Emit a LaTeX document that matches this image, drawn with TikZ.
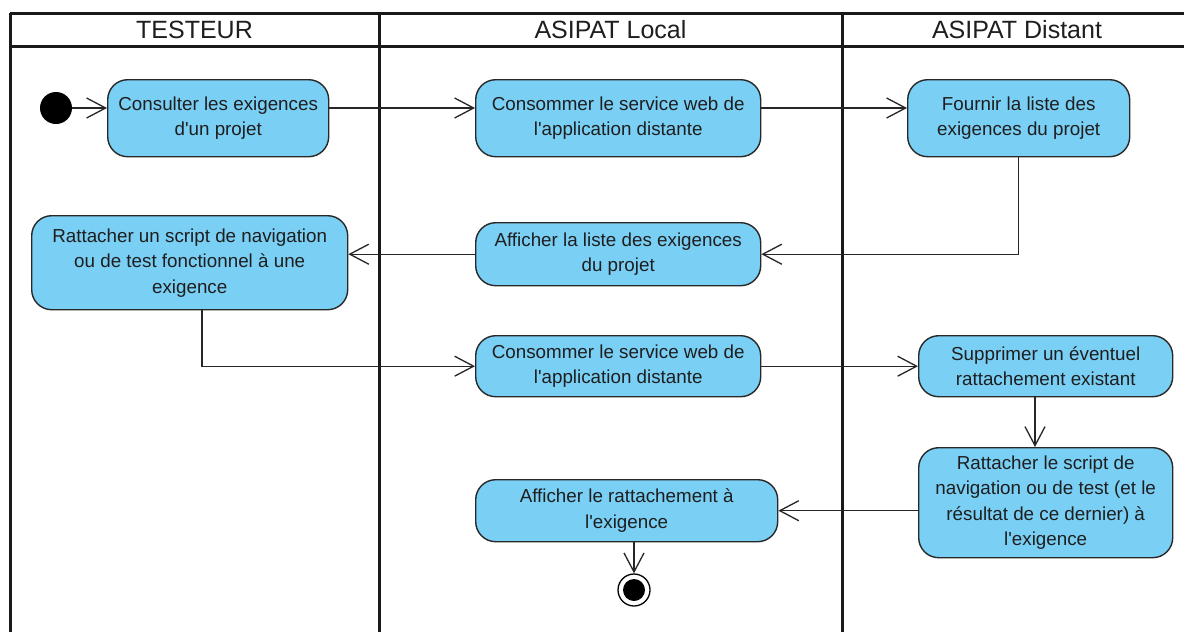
\documentclass[tikz,border=0pt]{standalone}
\usepackage{fontspec}
\setmainfont{Liberation Sans}
\usetikzlibrary{arrows.meta,calc}
\newcommand{\qs}{\textquotesingle}
\definecolor{actfill}{RGB}{122,207,245}
\definecolor{actdraw}{RGB}{40,40,40}
\definecolor{txt}{RGB}{30,30,30}
\tikzset{
  act/.style={draw=actdraw, line width=1.4pt, fill=actfill, rounded corners=20pt,
    anchor=north west, inner sep=0pt, align=center, text=txt,
    font=\fontsize{18.8}{25.5}\selectfont},
  flow/.style={draw=black!85, line width=1.3pt,
    -{Straight Barb[length=19pt,width=20pt,line width=1.3pt]}},
  lane/.style={line width=3pt, draw=black!90},
  hdr/.style={font=\fontsize{25}{30}\selectfont, text=txt, inner sep=0pt}
}
\begin{document}
\begin{tikzpicture}[x=1pt,y=-1pt]
\useasboundingbox (0,0) rectangle (1184,632);
\fill[white] (0,0) rectangle (1184,632);
% swimlane frame
\begin{scope}
\clip (0,0) rectangle (1184,632);
\draw[lane] (10,13) -- (1200,13);
\draw[lane] (10,46) -- (1200,46);
\draw[lane] (10,13) -- (10,640);
\draw[lane] (379,13) -- (379,640);
\draw[lane] (842,13) -- (842,640);
\end{scope}
\node[hdr] (h1) at (194.5,30) {TESTEUR};
\node[hdr] (h2) at (610.5,30) {ASIPAT Local};
\node[hdr] (h3) at (1017,30) {ASIPAT Distant};
% initial and final
\node[circle, fill=black, minimum size=32pt, inner sep=0pt] (init) at (56,108) {};
\node[circle, draw=black, line width=1.3pt, fill=white, minimum size=32pt, inner sep=0pt] (fin) at (634,590) {};
\node[circle, fill=black, minimum size=22pt, inner sep=0pt] (finin) at (634,590) {};
% activities
\node[act, minimum width=221pt, minimum height=77pt] (n1) at (107,79) {Consulter les exigences\\d\qs un projet};
\node[act, minimum width=285pt, minimum height=77pt] (n2) at (475,79) {Consommer le service web de\\l\qs application distante};
\node[act, minimum width=222pt, minimum height=77pt] (n3) at (907,79) {Fournir la liste des\\exigences du projet};
\node[act, minimum width=285pt, minimum height=63pt] (n4) at (475,222) {Afficher la liste des exigences\\du projet};
\node[act, minimum width=316pt, minimum height=94pt] (n5) at (31,215) {Rattacher un script de navigation\\ou de test fonctionnel à une\\exigence};
\node[act, minimum width=285pt, minimum height=61pt] (n6) at (475,335) {Consommer le service web de\\l\qs application distante};
\node[act, minimum width=254pt, minimum height=61pt] (n7) at (918,335) {Supprimer un éventuel\\rattachement existant};
\node[act, minimum width=254pt, minimum height=110pt] (n8) at (918,447) {Rattacher le script de\\navigation ou de test (et le\\résultat de ce dernier) à\\l\qs exigence};
\node[act, minimum width=302pt, minimum height=62pt] (n9) at (475,479) {Afficher le rattachement à\\l\qs exigence};
% helper coordinates
\coordinate (c5) at (202,309);
\coordinate (c7) at (1035,396);
% connectors
\draw[flow] (init) -- (n1.west |- init);
\draw[flow] (n1.east |- init) -- (n2.west |- init);
\draw[flow] (n2.east |- init) -- (n3.west |- init);
\draw[flow] (n3.south) |- (n4.east);
\draw[flow] (n4.west) -- (n5.east |- n4.west);
\draw[flow] (c5) |- (n6.west);
\draw[flow] (n6.east) -- (n7.west);
\draw[flow] (c7) -- (n8.north -| c7);
\draw[flow] (n8.west |- n9.east) -- (n9.east);
\draw[flow] (n9.south -| fin) -- (fin.north);
\end{tikzpicture}
\end{document}
